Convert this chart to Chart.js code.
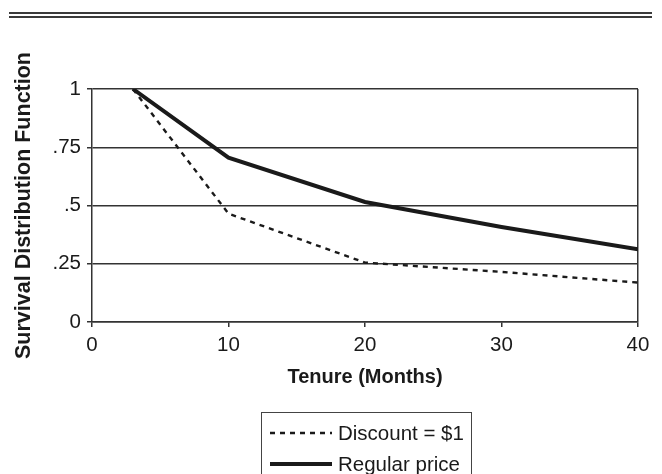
<!DOCTYPE html>
<html>
<head>
<meta charset="utf-8">
<script src="https://cdn.jsdelivr.net/npm/chart.js@4/dist/chart.umd.min.js"></script>
<style>
  html, body { margin: 0; padding: 0; background: #fff; }
  #wrap { position: relative; width: 662px; height: 474px; overflow: hidden; font-family: "Liberation Sans", Arial, sans-serif; }
  #chart { position: absolute; left: 0; top: 0; }
  .rule { position: absolute; left: 9px; width: 643px; height: 2px; background: #3a3a3a; }
  #legend { position: absolute; left: 261px; top: 412px; width: 211px; height: 80px; border: 1.5px solid #444; box-sizing: border-box; }
  .item { position: absolute; left: 8px; height: 24px; display: flex; align-items: center; font-size: 20.5px; color: #1a1a1a; white-space: nowrap; }
  .item svg { margin-right: 6px; }
</style>
</head>
<body>
<div id="wrap">
  <canvas id="chart" width="662" height="474"></canvas>
  <div class="rule" style="top:12px"></div>
  <div class="rule" style="top:16px"></div>
  <div id="legend"></div>
</div>
<script>
// values
const months = [3, 10, 20, 30, 40];
const discount = [1, 0.465, 0.255, 0.215, 0.169];
const regular = [1, 0.705, 0.515, 0.408, 0.312];
const seriesNames = ['Discount = $1', 'Regular price'];
const xTicks = [0, 10, 20, 30, 40];
const yTicks = [0, 0.25, 0.5, 0.75, 1];
const yTickLabels = ['0', '.25', '.5', '.75', '1'];

const INK = '#1a1a1a';
const GRID = '#333';
const FONT = '"Liberation Sans", Arial, sans-serif';

const toPoints = (ys) => months.map((m, i) => ({ x: m, y: ys[i] }));

const config = {
  type: 'line',
  data: {
    datasets: [
      {
        label: seriesNames[0],
        data: toPoints(discount),
        borderColor: INK,
        borderWidth: 2.4,
        borderDash: [5, 5],
        pointRadius: 0,
        tension: 0,
        fill: false,
      },
      {
        label: seriesNames[1],
        data: toPoints(regular),
        borderColor: INK,
        borderWidth: 4,
        pointRadius: 0,
        tension: 0,
        fill: false,
      },
    ],
  },
  options: {
    responsive: false,
    animation: false,
    layout: { padding: { left: 11, right: 24, top: 89, bottom: 85 } },
    plugins: {
      legend: { display: false },
      tooltip: { enabled: false },
    },
    scales: {
      x: {
        type: 'linear',
        min: 0,
        max: 40,
        afterBuildTicks: (scale) => { scale.ticks = xTicks.map((v) => ({ value: v })); },
        afterFit: (scale) => { scale.height = 67; },
        grid: {
          color: (ctx) => (ctx.tick && ctx.tick.value === 40 ? GRID : 'rgba(0,0,0,0)'),
          tickColor: GRID,
          lineWidth: 1.5,
          tickLength: 5,
        },
        border: { color: GRID, width: 1.5 },
        ticks: {
          color: INK,
          font: { family: FONT, size: 20.5 },
          padding: 6,
          maxRotation: 0,
        },
        title: {
          display: true,
          text: 'Tenure (Months)',
          color: INK,
          font: { family: FONT, size: 20, weight: 'bold' },
          padding: { top: 4, bottom: 0 },
        },
      },
      y: {
        min: 0,
        max: 1,
        afterBuildTicks: (scale) => { scale.ticks = yTicks.map((v) => ({ value: v })); },
        afterFit: (scale) => { scale.width = 81; },
        grid: {
          color: GRID,
          lineWidth: 1.5,
          tickLength: 5,
        },
        border: { color: GRID, width: 1.5 },
        ticks: {
          color: INK,
          font: { family: FONT, size: 20.5 },
          padding: 6,
          callback: (value) => yTickLabels[yTicks.indexOf(value)],
        },
        title: {
          display: true,
          text: 'Survival Distribution Function',
          color: INK,
          font: { family: FONT, size: 21.5, weight: 'bold' },
          padding: 0,
        },
      },
    },
  },
};

const chart = new Chart(document.getElementById('chart'), config);

// boxed legend, built from the datasets
const legendEl = document.getElementById('legend');
const rowTops = [8, 39];
chart.data.datasets.forEach((ds, i) => {
  const row = document.createElement('div');
  row.className = 'item';
  row.style.top = rowTops[i] + 'px';
  const dash = ds.borderDash ? ds.borderDash.join(' ') : 'none';
  row.innerHTML =
    '<svg width="62" height="10"><line x1="0" y1="5" x2="62" y2="5" stroke="' + ds.borderColor +
    '" stroke-width="' + ds.borderWidth + '" stroke-dasharray="' + dash + '"/></svg>';
  const label = document.createElement('span');
  label.textContent = ds.label;
  row.appendChild(label);
  legendEl.appendChild(row);
});
</script>
</body>
</html>
